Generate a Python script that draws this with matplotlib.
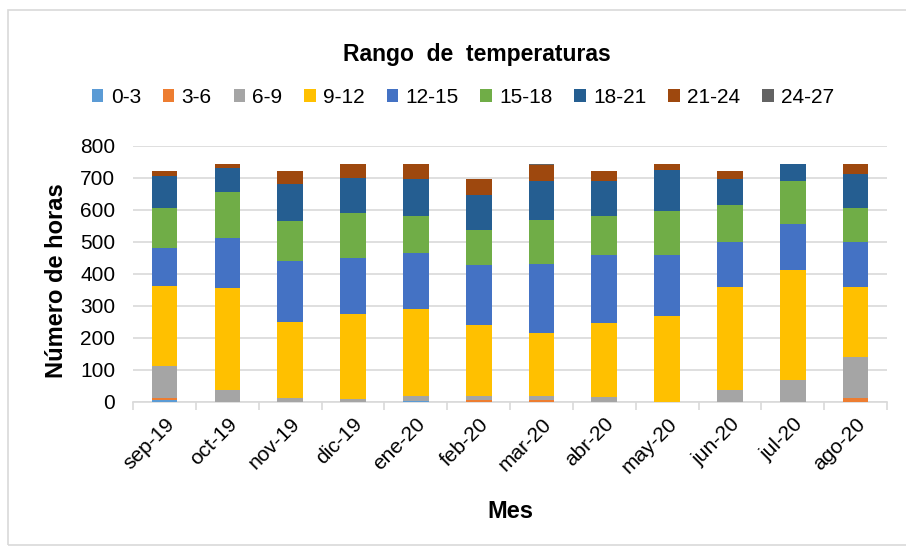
import matplotlib
matplotlib.use("Agg")
import matplotlib.pyplot as plt
import numpy as np
from matplotlib.patches import Rectangle

plt.rcParams['font.family'] = ['Liberation Sans', 'DejaVu Sans']

months = ["sep-19", "oct-19", "nov-19", "dic-19", "ene-20", "feb-20",
          "mar-20", "abr-20", "may-20", "jun-20", "jul-20", "ago-20"]
ranges = ["0-3", "3-6", "6-9", "9-12", "12-15", "15-18", "18-21", "21-24", "24-27"]

h_0_3   = [5, 0, 0, 0, 1, 0, 0, 0, 0, 0, 0, 0]
h_3_6   = [8, 0, 0, 0, 0, 5, 4, 0, 0, 0, 0, 12]
h_6_9   = [100, 37, 12, 8, 18, 14, 15, 14, 0, 37, 68, 129]
h_9_12  = [249, 319, 238, 267, 272, 222, 196, 231, 268, 321, 344, 217]
h_12_15 = [119, 156, 190, 175, 175, 187, 216, 213, 190, 142, 145, 142]
h_15_18 = [125, 144, 126, 141, 114, 109, 137, 121, 138, 116, 133, 106]
h_18_21 = [100, 75, 116, 109, 115, 110, 121, 110, 129, 79, 52, 105]
h_21_24 = [14, 13, 38, 44, 49, 49, 50, 31, 19, 25, 2, 33]
h_24_27 = [0, 0, 0, 0, 0, 0, 5, 0, 0, 0, 0, 0]

series = [h_0_3, h_3_6, h_6_9, h_9_12, h_12_15, h_15_18, h_18_21, h_21_24, h_24_27]
colors = ["#5B9BD5", "#ED7D31", "#A5A5A5", "#FFC000", "#4472C4",
          "#70AD47", "#255E91", "#9E480E", "#636363"]

fig = plt.figure(figsize=(9.06, 5.48), dpi=100)
ax = fig.add_axes([0.147, 0.267, 0.832, 0.467])

x = np.arange(len(months))
bottom = np.zeros(len(months))
for name, vals, c in zip(ranges, series, colors):
    v = np.array(vals, dtype=float)
    ax.bar(x, v, bottom=bottom, width=0.41, color=c, label=name, zorder=3)
    bottom += v

ax.set_xlim(-0.5, len(months) - 0.5)
ax.set_ylim(0, 800)
ax.set_yticks(np.arange(0, 801, 100))
ax.yaxis.grid(True, color="#d9d9d9", linewidth=1.2, zorder=0)
ax.tick_params(axis='y', length=0, labelsize=15, pad=13, labelcolor="#000000")

ax.set_xticks(x)
ax.set_xticklabels(months, rotation=45, ha='right', rotation_mode='anchor',
                   fontsize=15)
ax.tick_params(axis='x', length=0, pad=9)
ax.set_xticks(np.arange(-0.5, len(months), 1.0), minor=True)
ax.tick_params(axis='x', which='minor', length=6, color="#d9d9d9", width=1.2)

for s in ['top', 'right', 'left']:
    ax.spines[s].set_visible(False)
ax.spines['bottom'].set_color("#d9d9d9")
ax.spines['bottom'].set_linewidth(1.2)

fig.text(0.062, 0.487, "Número de horas", fontsize=17, fontweight='bold',
         rotation=90, ha='center', va='center')
fig.text(0.563, 0.066, "Mes", fontsize=17, fontweight='bold', ha='center', va='center')
fig.text(0.526, 0.90, "Rango  de  temperaturas", fontsize=16.5, fontweight='bold',
         ha='center', va='center')

handles, labels = ax.get_legend_handles_labels()
fig.legend(handles, labels, loc='center', bbox_to_anchor=(0.511, 0.822), ncol=9,
           frameon=False, fontsize=15, handlelength=0.55, handleheight=0.55,
           handletextpad=0.35, columnspacing=1.05)

fig.patches.append(Rectangle((8 / 906, 3 / 548), 1.0, 1 - 13 / 548,
                             transform=fig.transFigure, fill=False,
                             edgecolor="#d9d9d9", linewidth=1.2))

fig.savefig("out.png", dpi=100)
